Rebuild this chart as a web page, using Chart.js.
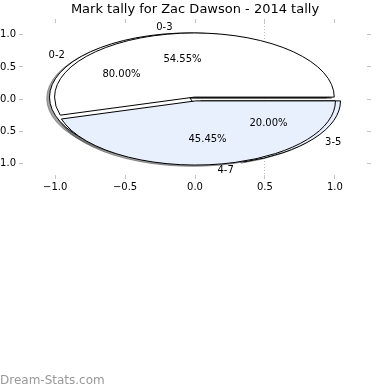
<!DOCTYPE html>
<html>
<head>
<meta charset="utf-8">
<script src="https://cdn.jsdelivr.net/npm/chart.js@4/dist/chart.umd.min.js"></script>
<style>
  body { margin: 0; background: #fff; overflow: hidden; }
  #wrap { position: relative; width: 390px; height: 390px; }
</style>
</head>
<body>
<div id="wrap"><canvas id="chart" width="390" height="390"></canvas></div>
<script>
// outer pie (drawn on top) and inner pie (drawn underneath)
let outerLabels = ["0-3", "4-7"];
let outerValues = [54.55, 45.45];
let outerColors = ["#ffffff", "#e9f0fd"];

let innerLabels = ["0-2", "3-5"];
let innerValues = [80.00, 20.00];
let innerColors = ["#ffffff", "#e9f0fd"];

let xTicks = [-1.0, -0.5, 0.0, 0.5, 1.0];
let yTicks = [-1.0, -0.5, 0.0, 0.5, 1.0];

let titleText = "Mark tally for Zac Dawson - 2014 tally";
let watermark = "Dream-Stats.com";

const FONT = "DejaVu Sans";

function fmtTick(v) {
    return (v < 0 ? "\u2212" : "") + Math.abs(v).toFixed(1);
}

function setTicks(list) {
    return (scale) => { scale.ticks = list.map(v => ({ value: v })); };
}

function hexToRgb(hex) {
    let n = parseInt(hex.slice(1), 16);
    return [(n >> 16) & 255, (n >> 8) & 255, n & 255];
}

const piePlugin = {
    id: "pies",
    afterDatasetsDraw(chart) {
        const ctx = chart.ctx;
        const x = chart.scales.x;
        const y = chart.scales.y;
        const rx = x.getPixelForValue(1) - x.getPixelForValue(0);
        const ry = y.getPixelForValue(0) - y.getPixelForValue(1);

        let pies = [
            { labels: innerLabels, values: innerValues, colors: innerColors, explode: 0.05 },
            { labels: outerLabels, values: outerValues, colors: outerColors, explode: 0.03 }
        ];

        let wedges = [];
        pies.forEach(p => {
            let total = p.values.reduce((a, b) => a + b, 0);
            let a = 0;
            p.values.forEach((v, i) => {
                let a1 = a;
                let a2 = a + v / total * 2 * Math.PI;
                let m = (a1 + a2) / 2;
                wedges.push({
                    cx: p.explode * Math.cos(m),
                    cy: p.explode * Math.sin(m),
                    a1: a1, a2: a2, m: m,
                    color: p.colors[i],
                    label: p.labels[i],
                    pct: (v / total * 100).toFixed(2) + "%"
                });
                a = a2;
            });
        });

        function path(cx, cy, a1, a2) {
            let px = x.getPixelForValue(cx);
            let py = y.getPixelForValue(cy);
            ctx.beginPath();
            ctx.moveTo(px, py);
            ctx.ellipse(px, py, rx, ry, 0, -a1, -a2, true);
            ctx.closePath();
        }

        ctx.save();
        // shadows
        wedges.forEach(w => {
            let c = hexToRgb(w.color).map(v => Math.round(v * 0.3));
            let col = `rgba(${c[0]},${c[1]},${c[2]},0.5)`;
            path(w.cx - 0.02, w.cy - 0.02, w.a1, w.a2);
            ctx.fillStyle = col;
            ctx.fill();
            ctx.strokeStyle = col;
            ctx.lineWidth = 1;
            ctx.stroke();
        });
        // wedges
        wedges.forEach(w => {
            path(w.cx, w.cy, w.a1, w.a2);
            ctx.fillStyle = w.color;
            ctx.fill();
            ctx.strokeStyle = "#000";
            ctx.lineWidth = 1;
            ctx.stroke();
        });
        // texts
        ctx.font = `10px "${FONT}"`;
        ctx.fillStyle = "#000";
        ctx.textBaseline = "middle";
        wedges.forEach(w => {
            let lx = w.cx + 1.1 * Math.cos(w.m);
            let ly = w.cy + 1.1 * Math.sin(w.m);
            ctx.textAlign = lx > 0 ? "left" : "right";
            ctx.fillText(w.label, x.getPixelForValue(lx), y.getPixelForValue(ly));
            let tx = w.cx + 0.6 * Math.cos(w.m);
            let ty = w.cy + 0.6 * Math.sin(w.m);
            ctx.textAlign = "center";
            ctx.fillText(w.pct, x.getPixelForValue(tx), y.getPixelForValue(ty));
        });
        ctx.restore();
    },
    afterDraw(chart) {
        const ctx = chart.ctx;
        ctx.save();
        ctx.font = `12px "${FONT}"`;
        ctx.fillStyle = "#999";
        ctx.textAlign = "left";
        ctx.textBaseline = "alphabetic";
        ctx.fillText(watermark, 0, 384);
        ctx.restore();
    }
};

let tickFont = { family: FONT, size: 10 };
let tickGrey = "#c4c4c4";

new Chart(document.getElementById("chart"), {
    type: "scatter",
    data: { datasets: [] },
    options: {
        responsive: false,
        animation: false,
        devicePixelRatio: 1,
        layout: { padding: { left: 0, right: 0, top: 0, bottom: 195 } },
        plugins: {
            legend: { display: false },
            tooltip: { enabled: false },
            title: {
                display: true,
                text: titleText,
                color: "#000",
                font: { family: FONT, size: 13, weight: "normal" },
                padding: { top: 2.2, bottom: 1.2 }
            }
        },
        scales: {
            x: {
                type: "linear", position: "bottom", min: -1.23, max: 1.23,
                afterBuildTicks: setTicks(xTicks),
                afterFit: (s) => { s.height = 20; },
                ticks: { font: tickFont, color: "#000", padding: 2, maxRotation: 0, callback: fmtTick },
                grid: {
                    color: (c) => (c.tick && c.tick.value === 0.5) ? "#bdbdbd" : "rgba(0,0,0,0)",
                    tickColor: tickGrey, tickLength: 4
                },
                border: { display: false, dash: [1, 2] }
            },
            x2: {
                type: "linear", axis: "x", position: "top", min: -1.23, max: 1.23,
                afterBuildTicks: setTicks(xTicks),
                afterFit: (s) => { s.height = 4; },
                ticks: { display: false },
                grid: { drawOnChartArea: false, tickColor: tickGrey, tickLength: 4 },
                border: { display: false }
            },
            y: {
                type: "linear", position: "left", min: -1.185, max: 1.185,
                afterBuildTicks: setTicks(yTicks),
                afterFit: (s) => { s.width = 23; },
                ticks: { font: tickFont, color: "#000", padding: 3, callback: fmtTick },
                grid: { drawOnChartArea: false, tickColor: tickGrey, tickLength: 4 },
                border: { display: false }
            },
            y2: {
                type: "linear", axis: "y", position: "right", min: -1.185, max: 1.185,
                afterBuildTicks: setTicks(yTicks),
                afterFit: (s) => { s.width = 23; },
                ticks: { display: false },
                grid: { drawOnChartArea: false, tickColor: tickGrey, tickLength: 4 },
                border: { display: false }
            }
        }
    },
    plugins: [piePlugin]
});
</script>
</body>
</html>
